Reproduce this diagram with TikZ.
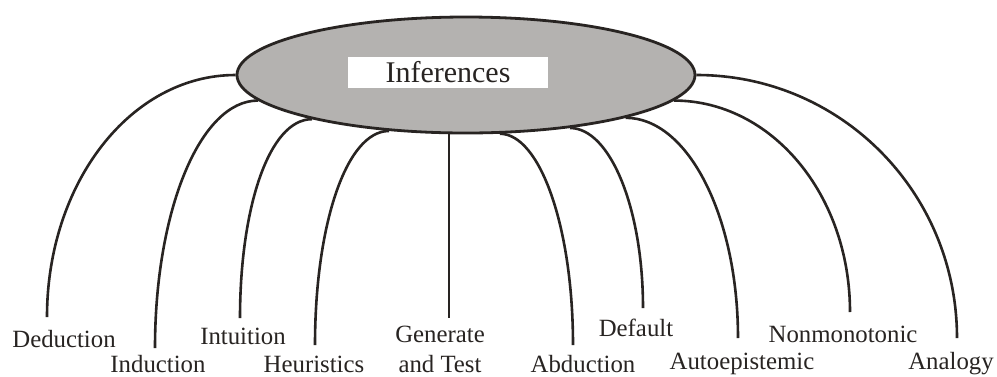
\documentclass[tikz,border=0pt]{standalone}
\usepackage{fontspec}
\setmainfont{Liberation Serif}
\usetikzlibrary{shapes.geometric}
\definecolor{ink}{RGB}{40,36,34}
\definecolor{shade}{RGB}{180,178,176}
\begin{document}
\begin{tikzpicture}[x=1pt,y=-1pt,
  conn/.style={line width=2.6pt, draw=ink},
  lbl/.style={anchor=base, inner sep=0pt, text=ink, align=center,
              font=\fontsize{24.8}{30}\selectfont},
  flat/.style={text depth=0pt},
]
\useasboundingbox (0,0) rectangle (997,376);
\fill[white] (0,0) rectangle (997,376);

% central ellipse and title
\node[ellipse, draw=ink, line width=2.8pt, fill=shade, minimum width=458pt,
      minimum height=116pt, inner sep=0pt] (inf) at (466,75) {};
\node[fill=white, minimum width=200pt, minimum height=31pt, inner sep=0pt,
      text=ink, font=\fontsize{30}{36}\selectfont] (title) at (448,72.5) {Inferences};

% end points of the connectors
\coordinate (dedE) at (47,317);
\coordinate (indE) at (155,348);
\coordinate (intE) at (240,318);
\coordinate (heuE) at (315,345);
\coordinate (genE) at (449,318);
\coordinate (abdE) at (573,345);
\coordinate (defE) at (643,308);
\coordinate (autE) at (738,338);
\coordinate (nonE) at (850,312);
\coordinate (anaE) at (957,338);

% labels
\node[lbl] (ded) at (64,347) {Deduction};
\node[lbl, flat] (ind) at (158,372) {Induction};
\node[lbl] (int) at (243,344) {Intuition};
\node[lbl, flat] (heu) at (314,372) {Heuristics};
\node[lbl, flat] (gen) at (440,372) {Generate\\and Test};
\node[lbl, flat] (abd) at (583,372) {Abduction};
\node[lbl] (def) at (636,336) {Default};
\node[lbl] (aut) at (742,369) {Autoepistemic};
\node[lbl] (non) at (843,342) {Nonmonotonic};
\node[lbl] (ana) at (951,369) {Analogy};

% connectors
\draw[conn] (inf.180)   .. controls +(-105,0) and +(0,-134) .. (dedE);
\draw[conn] (inf.187)   .. controls +(-58,0)  and +(0,-137) .. (indE);
\draw[conn] (inf.196.6) .. controls +(-43,0)  and +(0,-110) .. (intE);
\draw[conn] (inf.216.6) .. controls +(-43,0)  and +(0,-119) .. (heuE);
\draw[conn] (inf.south -| genE) -- (genE);
\draw[conn] (inf.300.6) .. controls +(40,0)   and +(0,-118) .. (abdE);
\draw[conn] (inf.333.6) .. controls +(40,0)   and +(0,-100) .. (defE);
\draw[conn] (inf.345.3) .. controls +(62,0)   and +(0,-122) .. (autE);
\draw[conn] (inf.353.3) .. controls +(97,0)   and +(0,-118) .. (nonE);
\draw[conn] (inf.0)     .. controls +(145,0)  and +(0,-145) .. (anaE);
\end{tikzpicture}
\end{document}
